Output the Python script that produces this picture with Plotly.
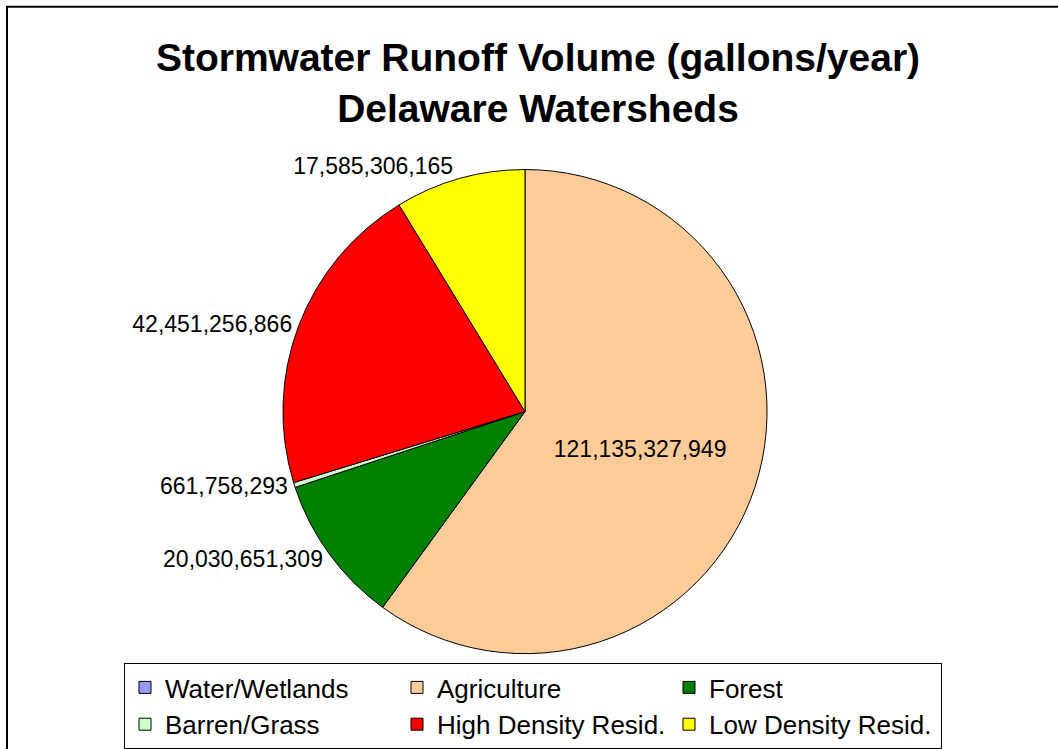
import plotly.graph_objects as go

categories = ["Water/Wetlands", "Agriculture", "Forest", "Barren/Grass",
              "High Density Resid.", "Low Density Resid."]
runoff_gallons = [0, 121135327949, 20030651309, 661758293, 42451256866, 17585306165]
slice_colors = ["#9999FF", "#FFCC99", "#008000", "#CCFFCC", "#FF0000", "#FFFF00"]
label_text = ["" if v == 0 else f"{v:,}" for v in runoff_gallons]
text_pos = ["none", "inside", "outside", "outside", "outside", "outside"]

W, H = 1058, 749

fig = go.Figure(go.Pie(
    labels=categories,
    values=runoff_gallons,
    text=label_text,
    textinfo="text",
    textposition=text_pos,
    insidetextorientation="horizontal",
    sort=False,
    direction="clockwise",
    rotation=0,
    marker=dict(colors=slice_colors, line=dict(color="black", width=1)),
    textfont=dict(family="Arial", size=23, color="black"),
    insidetextfont=dict(family="Arial", size=23, color="black"),
    outsidetextfont=dict(family="Arial", size=23, color="black"),
    domain=dict(x=[278 / W, 772 / W], y=[1 - 667 / H, 1 - 173 / H]),
    showlegend=True,
    hoverinfo="label+value",
))

fig.update_layout(
    width=W, height=H,
    margin=dict(l=0, r=0, t=0, b=0),
    paper_bgcolor="white",
    plot_bgcolor="white",
    title=dict(
        text="<b>Stormwater Runoff Volume (gallons/year)<br>Delaware Watersheds</b>",
        font=dict(family="Arial", size=39, color="black"),
        x=538 / W, xanchor="center",
        y=1 - 71 / H, yanchor="top",
    ),
    legend=dict(
        orientation="h",
        x=124 / W, xanchor="left",
        y=1 - 677 / H, yanchor="top",
        bordercolor="black", borderwidth=1,
        font=dict(family="Arial", size=26, color="black"),
        entrywidth=227,
        itemwidth=30,
        traceorder="normal",
    ),
    shapes=[dict(
        type="rect", xref="paper", yref="paper",
        x0=7 / W, x1=1.03, y0=-0.05, y1=1 - 7 / H,
        line=dict(color="black", width=2), fillcolor="rgba(0,0,0,0)",
    )],
)

fig.write_html("out.html")
